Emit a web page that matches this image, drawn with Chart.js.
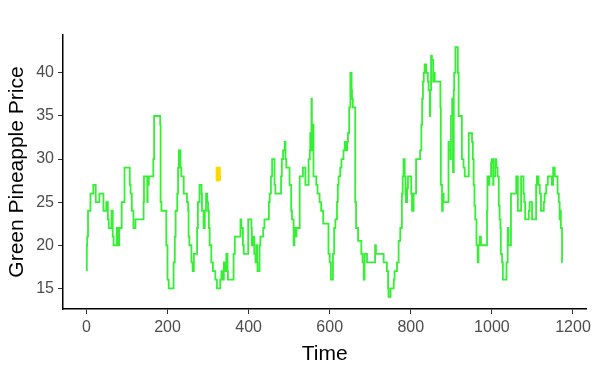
<!DOCTYPE html>
<html>
<head>
<meta charset="utf-8">
<script src="https://cdn.jsdelivr.net/npm/chart.js"></script>
<style>
  html, body { margin: 0; padding: 0; background: #fff; }
</style>
</head>
<body>
<canvas id="chart" width="595" height="366"></canvas>
<script>
// Serie verde
const greenTime = [
  1, 2, 4, 6, 10, 12, 17, 20, 23, 25, 32, 33, 42, 43, 49, 50, 53, 55, 57, 62, 63, 65, 67, 70, 75, 77, 81, 84, 87, 91, 94,
  100, 107, 109, 112, 116, 121, 123, 141, 142, 144, 150, 151, 154, 157, 165, 167, 170, 182, 183, 185, 195, 197, 200, 203,
  206, 215, 218, 220, 224, 226, 228, 232, 234, 238, 240, 244, 248, 251, 252, 254, 259, 262, 265, 269, 273, 275, 279, 281,
  284, 285, 287, 289, 292, 295, 298, 300, 302, 304, 308, 312, 314, 318, 322, 325, 330, 333, 336, 339, 343, 345, 348, 349,
  351, 363, 366, 369, 380, 382, 386, 388, 392, 399, 400, 407, 408, 411, 414, 417, 419, 421, 422, 427, 429, 432, 436, 439,
  444, 450, 452, 455, 458, 459, 464, 466, 470, 480, 482, 485, 489, 491, 493, 496, 501, 505, 507, 511, 513, 515, 518, 521,
  526, 528, 534, 540, 542, 548, 551, 552, 555, 556, 559, 560, 563, 567, 570, 575, 579, 584, 589, 597, 600, 603, 608, 611,
  614, 618, 620, 622, 626, 629, 632, 634, 637, 640, 643, 645, 648, 651, 652, 654, 655, 657, 659, 663, 665, 670, 673, 678,
  681, 684, 686, 690, 692, 694, 712, 714, 717, 733, 736, 741, 744, 745, 750, 754, 758, 760, 766, 770, 774, 778, 780, 782,
  785, 787, 788, 791, 793, 796, 801, 803, 807, 809, 813, 815, 823, 826, 828, 830, 832, 834, 838, 842, 844, 847, 848, 850,
  852, 855, 856, 859, 861, 873, 874, 877, 879, 881, 884, 893, 894, 898, 899, 902, 904, 906, 907, 910, 912, 916, 918, 920,
  926, 927, 930, 933, 943, 945, 951, 953, 955, 957, 959, 962, 965, 967, 970, 973, 988, 989, 992, 994, 998, 1000, 1003,
  1004, 1008, 1011, 1014, 1017, 1019, 1021, 1022, 1025, 1027, 1031, 1036, 1039, 1041, 1044, 1047, 1050, 1060, 1062, 1064,
  1066, 1072, 1074, 1078, 1080, 1082, 1085, 1091, 1093, 1095, 1099, 1100, 1109, 1111, 1115, 1118, 1121, 1123, 1128, 1130,
  1134, 1138, 1140, 1148, 1151, 1152, 1155, 1159, 1162, 1165, 1167, 1169, 1170, 1173, 1174
];
const greenPrice = [
  17, 20, 21, 24, 24, 26, 26, 27, 27, 25, 25, 26, 26, 24, 24, 25, 25, 23, 22, 22, 24, 24, 21, 20, 20, 22, 20, 22, 22, 25, 25,
  29, 29, 27, 26, 24, 22, 23, 23, 25, 28, 28, 25, 27, 28, 28, 30, 35, 35, 34, 25, 24, 24, 20, 16,
  15, 15, 18, 21, 24, 26, 29, 31, 29, 28, 28, 26, 26, 25, 24, 21, 20, 18, 17, 19, 19, 22, 25, 27,
  27, 26, 24, 24, 22, 24, 26, 25, 24, 22, 20, 18, 17, 17, 16, 15, 15, 16, 17, 16, 18, 17, 19, 17,
  16, 16, 19, 21, 21, 23, 22, 20, 19, 19, 23, 23, 22, 20, 21, 19, 18, 20, 18, 17, 20, 21, 21, 22,
  23, 23, 25, 26, 28, 30, 30, 27, 26, 26, 28, 30, 31, 32, 30, 29, 29, 27, 24, 23, 20, 22, 21, 22,
  22, 28, 28, 29, 27, 27, 30, 31, 33, 37, 31, 34, 28, 28, 27, 26, 25, 24, 22.5, 22.5, 19, 18, 16, 19,
  22, 23, 25, 27, 28, 29, 30, 30, 31, 32, 31, 32, 33, 36, 40, 40, 38, 37, 36, 36, 25, 22, 20.5, 20.5,
  19, 18, 16, 19, 19, 18, 18, 20, 19, 19, 18, 18, 17, 15, 14, 15, 15, 16, 17, 18, 20.5, 22, 26, 28,
  30, 28, 26, 25, 26.6, 28, 28, 26, 24, 26, 26, 30, 30, 31, 34, 37, 39, 40, 41, 40, 39, 38, 35, 38,
  42, 41.5, 39, 40, 39, 39, 36, 27, 24, 26, 25, 25, 32, 31, 30, 35, 37, 28.5, 38, 40, 43, 43, 40, 35,
  35, 30, 30, 29, 28, 33, 33, 32, 30, 27, 24.6, 23, 20, 18, 20, 21, 20, 24, 28, 27, 28, 29.6, 30,
  27, 28, 30, 29, 28, 24.6, 23, 22, 19, 18, 16, 16, 18, 22, 20, 20, 26, 26, 28,
  28, 24, 24, 28, 28, 26, 25, 23, 23, 24, 25, 25, 23, 23, 27, 28, 27, 26, 24, 24,
  25, 26, 27, 28, 28, 27, 29, 29, 28, 28, 26, 25, 23, 24, 22, 18
];
// Serie amarilla (solo un tramo corto)
const yellowTime = [320, 321, 323, 324, 326, 327, 329, 330];
const yellowPrice = [27.5, 29, 29, 27.5, 27.5, 29, 29, 27.5];

const xTicks = [0, 200, 400, 600, 800, 1000, 1200];
const yTicks = [15, 20, 25, 30, 35, 40];

const FONT = "'Liberation Sans', Arial, sans-serif";

function toPoints(xs, ys) {
  return xs.map((x, i) => ({x: x, y: ys[i]}));
}

const ctx = document.getElementById('chart').getContext('2d');
new Chart(ctx, {
  type: 'line',
  data: {
    datasets: [
      {label: 'Green', data: toPoints(greenTime, greenPrice), borderColor: '#33f033', borderWidth: 1.8,
       pointRadius: 0, stepped: 'after', fill: false},
      {label: 'Yellow', data: toPoints(yellowTime, yellowPrice), borderColor: '#ffd700', borderWidth: 1.8,
       pointRadius: 0, tension: 0, fill: false}
    ]
  },
  options: {
    responsive: false,
    animation: false,
    layout: {padding: {top: 35, right: 8, left: 0, bottom: 0}},
    plugins: {legend: {display: false}, tooltip: {enabled: false}},
    scales: {
      x: {
        type: 'linear',
        min: -57.7,
        max: 1233,
        afterFit: s => { s.height = 57; },
        afterBuildTicks: s => { s.ticks = xTicks.map(v => ({value: v})); },
        border: {display: true, color: '#000', width: 1.5},
        grid: {drawOnChartArea: false, drawTicks: true, tickLength: 5, color: '#333'},
        ticks: {color: '#4d4d4d', font: {family: FONT, size: 16}, padding: 4, maxRotation: 0,
                callback: v => String(v)},
        title: {display: true, text: 'Time', color: '#000', font: {family: FONT, size: 21, lineHeight: 1.1},
                padding: {top: 0, bottom: 0}}
      },
      y: {
        type: 'linear',
        min: 12.6,
        max: 44.4,
        afterFit: s => { s.width = 63; },
        afterBuildTicks: s => { s.ticks = yTicks.map(v => ({value: v})); },
        border: {display: true, color: '#000', width: 1.5},
        grid: {drawOnChartArea: false, drawTicks: true, tickLength: 5, color: '#333'},
        ticks: {color: '#4d4d4d', font: {family: FONT, size: 16}, padding: 4, callback: v => String(v)},
        title: {display: true, text: 'Green Pineapple Price', color: '#000', font: {family: FONT, size: 21},
                padding: {top: 5, bottom: 0}}
      }
    }
  }
});
</script>
</body>
</html>
